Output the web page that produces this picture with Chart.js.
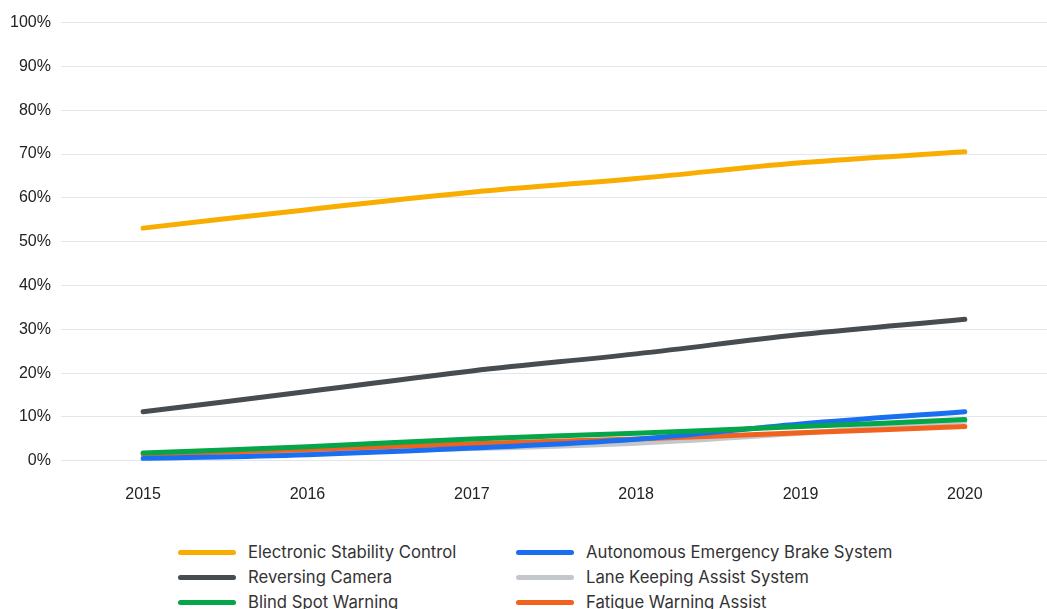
<!DOCTYPE html>
<html>
<head>
<meta charset="utf-8">
<script src="https://cdn.jsdelivr.net/npm/chart.js@4"></script>
<style>
  body { margin: 0; background: #fff; font-family: Inter, "Noto Sans", sans-serif; }
  #wrap { position: relative; width: 1047px; height: 609px; overflow: hidden; }
  #chartBox { position: absolute; left: 0; top: 3px; width: 1047px; height: 525px; }
  #legend { position: absolute; left: 178px; top: 541px; display: grid; grid-template-columns: 338px 338px; row-gap: 3px; }
  .item { display: flex; align-items: center; height: 22px; font-size: 16.7px; color: #333; white-space: nowrap; }
  .swatch { flex-shrink: 0; width: 58px; height: 5px; border-radius: 3px; margin-right: 12px; }
</style>
</head>
<body>
<div id="wrap">
  <div id="chartBox"><canvas id="adasChart"></canvas></div>
  <div id="legend"></div>
</div>
<script>
// Data
const years = ['2015', '2016', '2017', '2018', '2019', '2020'];
const stabilityControl = [53.1, 57.3, 61.3, 64.4, 68.0, 70.5];
const emergencyBrake = [0.5, 1.4, 2.9, 4.9, 8.4, 11.2];
const reversingCamera = [11.2, 15.8, 20.5, 24.4, 28.8, 32.3];
const laneKeeping = [1.0, 1.8, 2.8, 4.0, 6.3, 9.0];
const blindSpot = [1.8, 3.2, 5.0, 6.3, 7.8, 9.4];
const fatigueWarning = [1.5, 2.6, 3.9, 5.0, 6.4, 7.8];
const yTicks = [0, 10, 20, 30, 40, 50, 60, 70, 80, 90, 100];

const series = [
  { label: 'Electronic Stability Control', data: stabilityControl, color: '#f9ad00' },
  { label: 'Autonomous Emergency Brake System', data: emergencyBrake, color: '#1a6ff0' },
  { label: 'Reversing Camera', data: reversingCamera, color: '#474c51' },
  { label: 'Lane Keeping Assist System', data: laneKeeping, color: '#c3c7cb' },
  { label: 'Blind Spot Warning', data: blindSpot, color: '#04a649' },
  { label: 'Fatigue Warning Assist', data: fatigueWarning, color: '#f2621f' }
];

// draw order: light lines underneath
const drawOrder = [0, 2, 3, 5, 1, 4];

const tickFont = { family: '"Liberation Sans", Arial, sans-serif', size: 16 };

const ctx = document.getElementById('adasChart').getContext('2d');
new Chart(ctx, {
  type: 'line',
  data: {
    labels: years,
    datasets: series.map((s, i) => ({
      label: s.label,
      data: s.data,
      borderColor: s.color,
      backgroundColor: s.color,
      borderWidth: 5,
      pointRadius: 0,
      tension: 0.4,
      fill: false,
      borderCapStyle: 'round',
      order: drawOrder.length - drawOrder.indexOf(i)
    }))
  },
  options: {
    responsive: true,
    maintainAspectRatio: false,
    animation: false,
    layout: { padding: { top: 17, left: 0, right: 0 } },
    plugins: {
      legend: { display: false },
      tooltip: { enabled: false }
    },
    scales: {
      x: {
        offset: true,
        grid: { display: false, drawTicks: false },
        border: { display: false },
        ticks: { color: '#222', padding: 24, font: tickFont }
      },
      y: {
        min: 0,
        max: 100,
        afterBuildTicks: axis => { axis.ticks = yTicks.map(v => ({ value: v })); },
        grid: { color: '#e3e7eb', lineWidth: 1, drawTicks: false },
        border: { display: false },
        ticks: {
          color: '#222',
          padding: 10,
          font: tickFont,
          callback: v => v + '%'
        }
      }
    }
  }
});

// Legend in two columns
const legend = document.getElementById('legend');
series.forEach(s => {
  const item = document.createElement('div');
  item.className = 'item';
  item.innerHTML = `<span class="swatch" style="background:${s.color}"></span><span>${s.label}</span>`;
  legend.appendChild(item);
});
</script>
</body>
</html>
